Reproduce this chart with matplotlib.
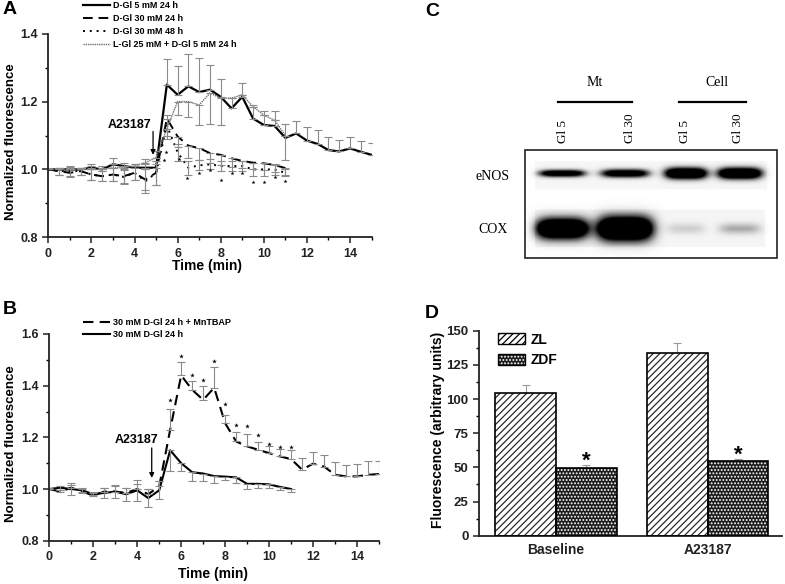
import numpy as np
import matplotlib
matplotlib.use('Agg')
import matplotlib.pyplot as plt
from matplotlib.patches import Rectangle, Patch
from matplotlib.ticker import MultipleLocator, FormatStrFormatter

plt.rcParams['font.family'] = ['Liberation Sans', 'DejaVu Sans']
plt.rcParams['font.weight'] = 'bold'
plt.rcParams['axes.labelweight'] = 'bold'
plt.rcParams['hatch.linewidth'] = 0.9

# ---------------- data ----------------
time_long = [0, 0.5, 1, 1.5, 2, 2.5, 3, 3.5, 4, 4.5, 5, 5.5, 6, 6.5, 7, 7.5, 8, 8.5, 9, 9.5,
             10, 10.5, 11, 11.5, 12, 12.5, 13, 13.5, 14, 14.5, 15]
time_short = [0, 0.5, 1, 1.5, 2, 2.5, 3, 3.5, 4, 4.5, 5, 5.5, 6, 6.5, 7, 7.5, 8, 8.5, 9, 9.5,
              10, 10.5, 11]

# Panel A
A_labels = ['D-Gl 5 mM 24 h', 'D-Gl 30 mM 24 h', 'D-Gl 30 mM 48 h', 'L-Gl 25 mM + D-Gl 5 mM 24 h']
A_gl5 = [1.000, 1.000, 1.000, 1.000, 1.005, 1.000, 1.015, 1.010, 1.005, 1.005, 1.005, 1.250, 1.220,
         1.245, 1.228, 1.235, 1.214, 1.180, 1.214, 1.150, 1.131, 1.128, 1.093, 1.106, 1.085, 1.075,
         1.057, 1.053, 1.062, 1.052, 1.043]
A_gl5_up = [0.000, 0.005, 0.008, 0.005, 0.012, 0.010, 0.018, 0.010, 0.010, 0.010, 0.012, 0.075, 0.085,
            0.095, 0.100, 0.072, 0.052, 0.030, 0.040, 0.040, 0.040, 0.045, 0.042, 0.038, 0.040, 0.040,
            0.040, 0.035, 0.035, 0.033, 0.036]
A_gl5_lo = [0, 0, 0, 0, 0, 0, 0, 0, 0, 0, 0, 0, 0, 0, 0, 0, 0, 0, 0, 0, 0, 0, 0.064, 0, 0, 0, 0, 0, 0, 0, 0]

A_d30_24 = [1.000, 0.995, 0.990, 0.995, 0.985, 0.980, 0.985, 0.980, 0.990, 0.970, 0.990, 1.150, 1.097,
            1.070, 1.063, 1.048, 1.043, 1.033, 1.025, 1.020, 1.018, 1.013, 1.004]
A_d30_24_lo = [0.0, 0.01, 0.012, 0.01, 0.015, 0.015, 0.02, 0.02, 0.02, 0.03, 0.035, 0.03, 0.03, 0.035,
               0.035, 0.03, 0.03, 0.025, 0.02, 0.02, 0.02, 0.02, 0.02]
A_d30_24_up = [0.0, 0.01, 0.012, 0.01, 0.015, 0.015, 0.02, 0.02, 0.02, 0.03, 0.035, 0, 0, 0, 0, 0, 0, 0,
               0, 0, 0, 0, 0]

A_d30_48 = [1.000, 0.995, 0.995, 0.995, 0.985, 0.980, 0.985, 0.978, 0.990, 0.965, 0.990, 1.130, 1.050,
            1.005, 1.012, 1.015, 1.010, 1.010, 1.010, 1.000, 1.000, 1.000, 0.990]
A_d30_48_err = [0.0, 0.01, 0.015, 0.01, 0.015, 0.015, 0.02, 0.02, 0.02, 0.035, 0.035, 0.03, 0.025,
                0.02, 0.015, 0.015, 0.015, 0.015, 0.015, 0.02, 0.02, 0.015, 0.01]

A_lgl = [1.000, 1.000, 1.000, 1.000, 1.000, 1.000, 1.005, 1.005, 1.010, 1.020, 1.035, 1.120, 1.200,
         1.200, 1.190, 1.225, 1.210, 1.210, 1.220, 1.185, 1.160, 1.145, 1.100]
A_lgl_lo = [0, 0, 0, 0, 0, 0, 0, 0, 0, 0, 0, 0.03, 0.04, 0.045, 0.06, 0.09, 0.08, 0, 0, 0, 0, 0, 0]
A_lgl_up = [0.005, 0.005, 0.005, 0.005, 0.01, 0.005, 0.01, 0.005, 0.005, 0.01, 0.02, 0, 0, 0, 0, 0,
            0, 0, 0, 0, 0, 0, 0]

A_star_t = [5.35, 5.45, 6.05, 6.45, 7.0, 7.5, 8.0, 8.5, 9.0, 9.5, 10.0, 10.5, 11.0]
A_star_v = [1.028, 1.052, 1.030, 0.975, 0.990, 0.998, 0.969, 0.990, 0.990, 0.964, 0.964, 0.978, 0.966]

# Panel B
B_labels = ['30 mM D-Gl 24 h + MnTBAP', '30 mM D-Gl 24 h']
B_mntbap = [1.000, 0.990, 1.005, 0.990, 0.975, 0.990, 0.990, 0.985, 1.000, 0.980, 1.010, 1.230, 1.440,
            1.384, 1.345, 1.392, 1.255, 1.184, 1.165, 1.152, 1.139, 1.126, 1.116, 1.075, 1.098, 1.087,
            1.055, 1.049, 1.049, 1.055, 1.058]
B_mntbap_up = [0.005, 0.005, 0.010, 0.010, 0.010, 0.015, 0.020, 0.020, 0.020, 0.020, 0.020, 0.080,
               0.050, 0.036, 0.055, 0.082, 0.032, 0.035, 0.048, 0.030, 0.026, 0.030, 0.034, 0.045,
               0.047, 0.046, 0.050, 0.044, 0.049, 0.055, 0.052]
B_solid = [1.000, 1.005, 1.000, 0.995, 0.980, 0.985, 0.990, 0.980, 0.995, 0.965, 0.995, 1.150, 1.100,
           1.065, 1.060, 1.050, 1.048, 1.045, 1.020, 1.020, 1.018, 1.008, 1.000]
B_solid_lo = [0, 0.008, 0.025, 0.010, 0.008, 0.020, 0.025, 0.025, 0.040, 0.035, 0.035, 0.082, 0.032,
              0.035, 0.030, 0.028, 0.013, 0.020, 0.020, 0.015, 0.015, 0.010, 0.010]
B_solid_up = [0, 0.008, 0.025, 0.010, 0.008, 0.020, 0.025, 0.025, 0.040, 0.035, 0.035, 0, 0, 0, 0, 0,
              0, 0, 0, 0, 0, 0, 0]
B_star_t = [5.5, 6.0, 6.5, 7.0, 7.5, 8.0, 8.5, 9.0, 9.5, 10.0, 10.5, 11.0]
B_star_v = [1.343, 1.516, 1.442, 1.423, 1.494, 1.329, 1.249, 1.242, 1.210, 1.175, 1.161, 1.161]

# Panel C (western blot)
C_groups = ['Mt', 'Cell']
C_lanes = ['Gl 5', 'Gl 30', 'Gl 5', 'Gl 30']
C_rows = ['eNOS', 'COX']
C_enos = [0.80, 0.80, 1.00, 1.00]
C_cox = [0.95, 1.00, 0.12, 0.20]

# Panel D
D_groups = ['Baseline', 'A23187']
D_ZL = [104.5, 134.0]
D_ZL_err = [5.5, 7.0]
D_ZDF = [49.5, 55.0]
D_ZDF_err = [2.0, 1.0]

# ---------------- figure ----------------
W, H = 785, 584
fig = plt.figure(figsize=(W / 100, H / 100), dpi=100)


def box(l, t, r, b):
    return [l / W, 1 - b / H, (r - l) / W, (b - t) / H]


ERR = dict(ecolor='#8a8a8a', elinewidth=0.8, capsize=3, capthick=0.8, fmt='none')
ARROW = dict(arrowstyle='-|>', color='black', lw=0.9, mutation_scale=7, shrinkA=0, shrinkB=0)


def style_axes(ax):
    for s in ['top', 'right']:
        ax.spines[s].set_visible(False)
    for s in ['left', 'bottom']:
        ax.spines[s].set_linewidth(1.3)
        ax.spines[s].set_color('#222222')
    ax.tick_params(which='major', direction='out', length=4, width=1.1, labelsize=9, colors='#222222')
    ax.tick_params(which='minor', direction='out', length=2.5, width=1.0)


# ---- Panel A ----
axA = fig.add_axes(box(48.3, 33.7, 371.6, 237.3))
style_axes(axA)
lA1, = axA.plot(time_long, A_gl5, color='black', lw=1.6, label=A_labels[0])
lA2, = axA.plot(time_short, A_d30_24, color='black', lw=1.4, ls=(0, (5, 3)), label=A_labels[1])
lA3, = axA.plot(time_short, A_d30_48, color='black', lw=1.4, ls=(0, (1, 2.5)), label=A_labels[2])
lA4, = axA.plot(time_short, A_lgl, color='#6e6e6e', lw=1.0, ls=(0, (1, 0.6)), label=A_labels[3])
axA.errorbar(time_long, A_gl5, yerr=[A_gl5_lo, A_gl5_up], **ERR)
axA.errorbar(time_short, A_d30_24, yerr=[A_d30_24_lo, A_d30_24_up], **ERR)
axA.errorbar(time_short, A_d30_48, yerr=A_d30_48_err, **ERR)
axA.errorbar(time_short, A_lgl, yerr=[A_lgl_lo, A_lgl_up], **ERR)
axA.scatter(A_star_t, A_star_v, marker='*', s=9, color='black', linewidths=0, zorder=5)
axA.set_xlim(0, 15)
axA.set_ylim(0.8, 1.4)
axA.xaxis.set_major_locator(MultipleLocator(2))
axA.xaxis.set_minor_locator(MultipleLocator(1))
axA.yaxis.set_major_locator(MultipleLocator(0.2))
axA.yaxis.set_minor_locator(MultipleLocator(0.1))
axA.yaxis.set_major_formatter(FormatStrFormatter('%.1f'))
axA.set_xlabel('Time (min)', fontsize=10)
axA.set_ylabel('Normalized fluorescence', fontsize=9.5)
axA.xaxis.set_label_coords(0.49, -0.105)
axA.yaxis.set_label_coords(-0.096, 0.47)
axA.text(4.8, 1.131, 'A23187', fontsize=9, ha='right', va='center')
axA.annotate('', xy=(4.86, 1.043), xytext=(4.86, 1.112), arrowprops=ARROW)
axA.legend(handles=[lA1, lA2, lA3, lA4], loc='upper left', bbox_to_anchor=(0.107, 1.162),
           frameon=False, fontsize=6.5, handlelength=3.0, handletextpad=0.35,
           labelspacing=0.45, borderpad=0, borderaxespad=0)

# ---- Panel B ----
axB = fig.add_axes(box(49.3, 334.0, 379.0, 540.7))
style_axes(axB)
lB1, = axB.plot(time_long, B_mntbap, color='black', lw=1.5, ls=(0, (5, 3)), label=B_labels[0])
lB2, = axB.plot(time_short, B_solid, color='black', lw=1.5, label=B_labels[1])
axB.errorbar(time_long, B_mntbap, yerr=[[0] * len(B_mntbap_up), B_mntbap_up], **ERR)
axB.errorbar(time_short, B_solid, yerr=[B_solid_lo, B_solid_up], **ERR)
axB.scatter(B_star_t, B_star_v, marker='*', s=12, color='black', linewidths=0, zorder=5)
axB.set_xlim(0, 15)
axB.set_ylim(0.8, 1.6)
axB.xaxis.set_major_locator(MultipleLocator(2))
axB.xaxis.set_minor_locator(MultipleLocator(1))
axB.yaxis.set_major_locator(MultipleLocator(0.2))
axB.yaxis.set_minor_locator(MultipleLocator(0.1))
axB.yaxis.set_major_formatter(FormatStrFormatter('%.1f'))
axB.set_xlabel('Time (min)', fontsize=10)
axB.set_ylabel('Normalized fluorescence', fontsize=9.5)
axB.xaxis.set_label_coords(0.497, -0.125)
axB.yaxis.set_label_coords(-0.097, 0.47)
axB.text(4.98, 1.19, 'A23187', fontsize=9, ha='right', va='center')
axB.annotate('', xy=(4.66, 1.043), xytext=(4.66, 1.159), arrowprops=ARROW)
axB.legend(handles=[lB1, lB2], loc='upper left', bbox_to_anchor=(0.102, 1.078),
           frameon=False, fontsize=6.5, handlelength=3.0, handletextpad=0.35,
           labelspacing=0.35, borderpad=0, borderaxespad=0)

# ---- Panel C ----
axC = fig.add_axes([400 / W, 1 - 300 / H, 385 / W, 300 / H])
axC.set_xlim(400, 785)
axC.set_ylim(300, 0)
axC.axis('off')
bx0, bx1, by0, by1 = 525, 777, 150, 258
lane_x = [562, 625, 686, 740]
xs = np.linspace(bx0, bx1, 504)
ys = np.linspace(by0, by1, 216)
X, Y = np.meshgrid(xs, ys)
dark = np.zeros_like(X)
dark += 0.07 * ((X > 535) & (X < 767) & (Y > 162) & (Y < 190))
dark += 0.08 * ((X > 535) & (X < 765) & (Y > 210) & (Y < 247))
enos_hw = [24, 25, 22, 23]
enos_hh = [3.8, 4.4, 6.0, 6.0]
cox_hw = [27, 29, 20, 22]
cox_hh = [11, 13, 6, 6]
for i, cx in enumerate(lane_x):
    dark += 1.6 * C_enos[i] * np.exp(-((X - cx) / enos_hw[i]) ** 4) * np.exp(-((Y - 174) / enos_hh[i]) ** 2)
    dark += 1.8 * C_cox[i] * np.exp(-((X - cx) / cox_hw[i]) ** 4) * np.exp(-((Y - 229) / cox_hh[i]) ** 2)
dark = np.clip(dark, 0, 1)
axC.imshow(dark, cmap='Greys', vmin=0, vmax=1, extent=[bx0, bx1, by1, by0], aspect='auto',
           interpolation='bilinear')
axC.add_patch(Rectangle((bx0, by0), bx1 - bx0, by1 - by0, fill=False, lw=1.2, color='#222222'))
serif = ['Liberation Serif', 'DejaVu Serif']
axC.text(595, 83, C_groups[0], family=serif, fontweight='normal', fontsize=10, ha='center', va='center')
axC.text(717, 83, C_groups[1], family=serif, fontweight='normal', fontsize=10, ha='center', va='center')
axC.plot([558, 632], [102, 102], color='black', lw=1.6)
axC.plot([679, 746], [102, 102], color='black', lw=1.6)
for lx, lab in zip([563, 630, 685, 738], C_lanes):
    axC.text(lx, 143, lab, family=serif, fontweight='normal', fontsize=9.5, rotation=90,
             ha='center', va='bottom')
axC.text(493, 176, C_rows[0], family=serif, fontweight='normal', fontsize=10, ha='center', va='center')
axC.text(493, 229, C_rows[1], family=serif, fontweight='normal', fontsize=10, ha='center', va='center')

# ---- Panel D ----
axD = fig.add_axes(box(479, 330.7, 782, 535.7))
style_axes(axD)
xpos = np.arange(len(D_groups))
bw = 0.4
axD.bar(xpos - bw / 2, D_ZL, bw, facecolor='white', edgecolor='#2a2a2a', hatch='/////', lw=0, zorder=2)
axD.bar(xpos - bw / 2, D_ZL, bw, fill=False, edgecolor='black', lw=1.2, zorder=3)
axD.bar(xpos + bw / 2, D_ZDF, bw, facecolor='#1c1c1c', edgecolor='white', hatch='.....', lw=0, zorder=2)
axD.bar(xpos + bw / 2, D_ZDF, bw, fill=False, edgecolor='black', lw=1.2, zorder=3)
axD.errorbar(xpos - bw / 2, D_ZL, yerr=[[0, 0], D_ZL_err], ecolor='#9a9a9a', elinewidth=0.8,
             capsize=3, capthick=0.8, fmt='none', zorder=1)
axD.errorbar(xpos + bw / 2, D_ZDF, yerr=[[0, 0], D_ZDF_err], ecolor='#9a9a9a', elinewidth=0.8,
             capsize=3, capthick=0.8, fmt='none', zorder=1)
for xp, v, e in zip(xpos + bw / 2, D_ZDF, D_ZDF_err):
    axD.text(xp, v + e + 3, '*', fontsize=16, ha='center', va='center')
axD.set_xlim(-0.507, 1.49)
axD.set_ylim(0, 150)
axD.yaxis.set_major_locator(MultipleLocator(25))
axD.yaxis.set_minor_locator(MultipleLocator(12.5))
axD.set_xticks(xpos)
axD.set_xticklabels(D_groups, fontsize=10)
axD.tick_params(axis='x', length=0, pad=5)
axD.tick_params(axis='y', labelsize=9.5)
axD.set_ylabel('Fluorescence (arbitrary units)', fontsize=10)
axD.yaxis.set_label_coords(-0.112, 0.516)
hZL = Patch(facecolor='white', edgecolor='black', hatch='/////', lw=1.0)
hZDF = (Patch(facecolor='#1c1c1c', edgecolor='white', hatch='.....', lw=0),
        Patch(fill=False, edgecolor='black', lw=1.0))
axD.legend([hZL, hZDF], ['ZL', 'ZDF'], loc='upper left', bbox_to_anchor=(0.063, 0.99), frameon=False,
           fontsize=10, handlelength=1.95, handleheight=0.85, handletextpad=0.4, labelspacing=0.45,
           borderpad=0, borderaxespad=0)

# panel letters
for lab, (px, py) in zip(['A', 'B', 'C', 'D'], [(10, 10), (10, 310), (432, 12), (432, 314)]):
    fig.text(px / W, 1 - py / H, lab, fontsize=14, fontweight='bold', ha='center', va='center')

fig.savefig('out.png', dpi=100)
